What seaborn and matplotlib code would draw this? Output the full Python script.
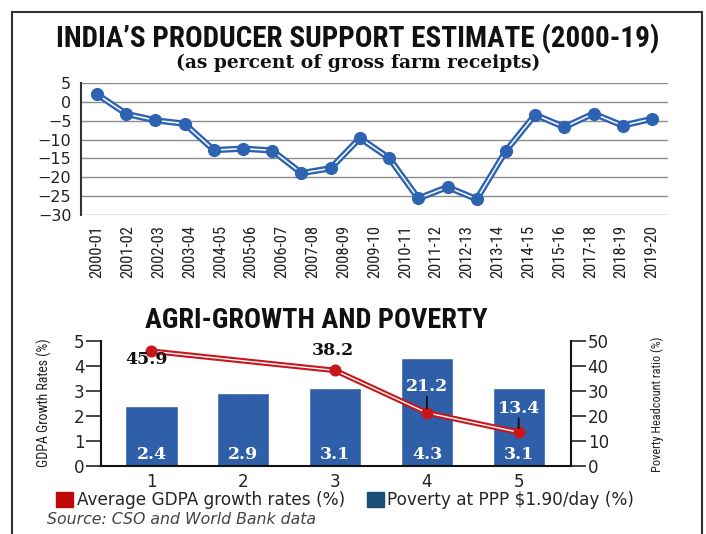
import numpy as np
import pandas as pd
import matplotlib
matplotlib.use("Agg")
import matplotlib.pyplot as plt
from matplotlib.patches import Patch, Rectangle
import seaborn as sns

# ---------------- data ----------------
pse_years = ["2000-01", "2001-02", "2002-03", "2003-04", "2004-05", "2005-06",
             "2006-07", "2007-08", "2008-09", "2009-10", "2010-11", "2011-12",
             "2012-13", "2013-14", "2014-15", "2015-16", "2017-18", "2018-19",
             "2019-20"]
pse_values = [2.0, -3.2, -4.9, -5.8, -12.8, -12.4, -12.9, -18.9, -17.6, -9.6,
              -14.9, -25.6, -22.6, -25.8, -13.0, -3.4, -6.7, -3.1, -6.3, -4.5]

periods = [1, 2, 3, 4, 5]
gdpa_growth = [2.4, 2.9, 3.1, 4.3, 3.1]
poverty_periods = [1, 3, 4, 5]
poverty_ratio = [45.9, 38.2, 21.2, 13.4]

legend_labels = ["Average GDPA growth rates (%)", "Poverty at PPP $1.90/day (%)"]

# ---------------- style ----------------
BLUE = "#2e63b1"
BAR_BLUE = "#2f5fa9"
RED = "#c8161d"
LEG_RED = "#c00a0a"
LEG_NAVY = "#1b4f7a"
NARROW = ["Roboto Condensed", "Roboto", "DejaVu Sans"]
SERIF = ["DejaVu Serif"]

sns.set_theme(style="white")
plt.rcParams["font.family"] = ["DejaVu Sans"]

W, H = 706, 534
fig = plt.figure(figsize=(W / 100, H / 100), dpi=100)


def box(l, t, r, b):
    # pixel box -> figure fraction
    return [l / W, 1 - b / H, (r - l) / W, (b - t) / H]


# ---------------- top chart: producer support estimate ----------------
ax1 = fig.add_axes(box(81, 83, 668, 215))
df_pse = pd.DataFrame({"pos": np.arange(len(pse_values)), "pse": pse_values})

sns.lineplot(data=df_pse, x="pos", y="pse", ax=ax1, color=BLUE, lw=4.5, zorder=3)
ax1.plot(df_pse["pos"], df_pse["pse"], color="white", lw=1.1, zorder=4)
sns.scatterplot(data=df_pse, x="pos", y="pse", ax=ax1, color=BLUE, s=90,
                edgecolor=BLUE, linewidth=0, zorder=5)

ax1.set_xlim(-0.55, 19.55)
ax1.set_ylim(-30, 5)
ax1.set_yticks(range(-30, 6, 5))
ax1.set_xticks(np.linspace(0, len(pse_values) - 1, len(pse_years)))
ax1.set_xticklabels(pse_years, rotation=90, family=NARROW, fontsize=12)
ax1.tick_params(axis="y", length=0, pad=7, labelsize=11.5, labelcolor="#222")
ax1.tick_params(axis="x", length=0, pad=7, labelcolor="#222")
ax1.yaxis.grid(True, color="#8c8c8c", lw=1)
ax1.set_axisbelow(True)
for s in ["top", "right", "bottom"]:
    ax1.spines[s].set_visible(False)
ax1.spines["left"].set_color("#333")
ax1.spines["left"].set_linewidth(1.5)
ax1.set_xlabel("")
ax1.set_ylabel("")

# ---------------- bottom chart: agri-growth and poverty ----------------
ax2 = fig.add_axes(box(101, 341, 571, 465.7))
df_gdpa = pd.DataFrame({"period": periods, "growth": gdpa_growth})
sns.barplot(data=df_gdpa, x="period", y="growth", ax=ax2, color=BAR_BLUE,
            width=0.57, native_scale=True, saturation=1)

ax3 = ax2.twinx()
df_pov = pd.DataFrame({"period": poverty_periods, "ratio": poverty_ratio})
sns.lineplot(data=df_pov, x="period", y="ratio", ax=ax3, color=RED, lw=4, zorder=3)
ax3.plot(df_pov["period"], df_pov["ratio"], color="white", lw=1.0, zorder=4)
sns.scatterplot(data=df_pov, x="period", y="ratio", ax=ax3, color=RED, s=75,
                linewidth=0, zorder=5)

ax2.set_xlim(0.45, 5.57)
ax2.set_ylim(0, 5)
ax2.set_yticks(range(0, 6))
ax2.set_xticks(periods)
ax2.set_xticklabels([str(p) for p in periods])
ax3.set_ylim(0, 50)
ax3.set_yticks(range(0, 51, 10))

ax2.tick_params(axis="x", length=0, pad=5, labelsize=12, labelcolor="#222")
ax2.tick_params(axis="y", direction="out", length=11, width=1.2, pad=1,
                labelsize=12, labelcolor="#222", left=True)
ax3.tick_params(axis="y", direction="out", length=11, width=1.2, pad=1,
                labelsize=12, labelcolor="#222", right=True)

for a in (ax2, ax3):
    for s in a.spines.values():
        s.set_visible(False)
    a.set_xlabel("")
    a.set_ylabel("")
for s in ["left", "bottom"]:
    ax2.spines[s].set_visible(True)
    ax2.spines[s].set_color("#111")
    ax2.spines[s].set_linewidth(1.5)
ax3.spines["right"].set_visible(True)
ax3.spines["right"].set_color("#111")
ax3.spines["right"].set_linewidth(1.5)

# value labels
for p, g in zip(periods, gdpa_growth):
    ax2.text(p, 0.43, f"{g}", ha="center", va="center", color="white",
             fontsize=12.5, fontweight="bold", family=SERIF)

label_offsets = [(-5, -8, "#111", False), (-2, 20, "#111", False),
                 (0, 26, "white", True), (0, 24, "white", True)]
for p, r, (dx, dy, col, stem) in zip(poverty_periods, poverty_ratio, label_offsets):
    ax3.annotate(f"{r}", xy=(p, r), xytext=(dx, dy), textcoords="offset pixels",
                 ha="center", va="center", color=col, fontsize=12.5,
                 fontweight="bold", family=SERIF, zorder=6)
    if stem:
        ax3.annotate("", xy=(p, r), xytext=(0, dy - 10), textcoords="offset pixels",
                     arrowprops=dict(arrowstyle="-", color="#111", lw=1.3,
                                     shrinkA=0, shrinkB=3), zorder=6)

# ---------------- titles, axis titles, legend, source ----------------
fig.text(358 / W, 1 - 38.5 / H, "INDIA\u2019S PRODUCER SUPPORT ESTIMATE (2000-19)",
         ha="center", va="center", fontsize=21, fontweight="bold",
         family=NARROW, color="#111")
fig.text(358 / W, 1 - 63 / H, "(as percent of gross farm receipts)",
         ha="center", va="center", fontsize=13.5, fontweight="bold",
         family=SERIF, color="#111")
fig.text(316 / W, 1 - 320 / H, "AGRI-GROWTH AND POVERTY", ha="center",
         va="center", fontsize=20.3, fontweight="bold", family=NARROW,
         color="#111")
fig.text(44 / W, 1 - 403 / H, "GDPA Growth Rates (%)", rotation=90,
         ha="center", va="center", fontsize=10, family=NARROW, color="#222")
fig.text(657 / W, 1 - 404 / H, "Poverty Headcount ratio (%)", rotation=90,
         ha="center", va="center", fontsize=8.8, family=NARROW, color="#222")

handles = [Patch(color=LEG_RED, label=legend_labels[0]),
           Patch(color=LEG_NAVY, label=legend_labels[1])]
fig.legend(handles=handles, loc="center", bbox_to_anchor=(0.489, 1 - 500 / H),
           ncol=2, frameon=False, fontsize=12.2, handlelength=1.0,
           handleheight=1.0, handletextpad=0.2, columnspacing=1.3)

fig.text(47 / W, 1 - 519 / H, "Source: CSO and World Bank data", ha="left",
         va="center", fontsize=11.3, style="italic", color="#444")

# outer frame of the graphic
fig.add_artist(Rectangle((12 / W, -0.05), (702 - 12) / W, (H - 12) / H + 0.05,
                         transform=fig.transFigure, fill=False, ec="#333",
                         lw=1.5))

fig.savefig("out.png", dpi=100)
